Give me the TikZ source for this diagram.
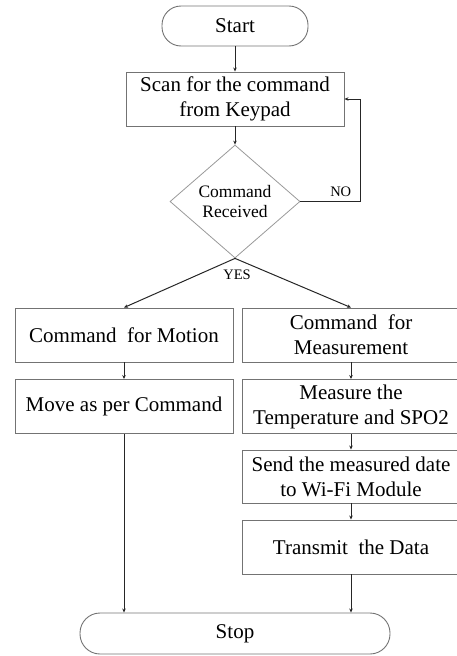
\documentclass[tikz,border=0pt]{standalone}
\usepackage{fontspec}
\setmainfont{Liberation Serif}
\usetikzlibrary{arrows.meta,shapes.geometric}
\begin{document}
\begin{tikzpicture}[x=1pt,y=-1pt,>={Stealth[length=4pt,width=3.5pt]},
 box/.style={draw=black!55,line width=0.9pt,minimum width=218pt,minimum height=54pt,
   align=center,inner sep=2pt,font=\fontsize{21}{25}\selectfont},
 term/.style={draw=black!55,line width=0.9pt,rounded corners=19pt,minimum height=40pt,
   font=\fontsize{21}{25}\selectfont},
 lbl/.style={font=\fontsize{14.5}{16}\selectfont,inner sep=1pt},
 arr/.style={->,line width=1pt,black!85}]
 \useasboundingbox (0,0) rectangle (456,656);
 \node[term,minimum width=146pt] (start) at (235,26) {Start};
 \node[box] (scan) at (235,99) {Scan for the command\\from Keypad};
 \node[diamond,draw=black!40,line width=0.8pt,aspect=1.15,minimum width=130pt,minimum height=113pt,
   inner sep=0pt,align=center,font=\fontsize{17.5}{20}\selectfont] (recv) at (235,201.5) {Command\\Received};
 \node[box] (motion) at (124,335) {Command\ \ for Motion};
 \node[box] (meas) at (351,335) {Command\ \ for\\Measurement};
 \node[box] (move) at (124,406.5) {Move as per Command};
 \node[box] (temp) at (351,406.5) {Measure the\\Temperature and SPO2};
 \node[box,minimum height=53pt] (send) at (351,476.5) {Send the measured date\\to Wi-Fi Module};
 \node[box] (trans) at (351,547) {Transmit\ \ the Data};
 \node[term,minimum width=310pt,minimum height=41pt,rounded corners=20pt] (stop) at (235,633.5) {Stop};
 \node[lbl] (yes) at (237,275) {YES};
 \draw[arr] (start) -- (scan);
 \draw[arr] (scan) -- (recv);
 \draw[arr] (recv.east) -- ++(60,0) coordinate (corner) |- (scan.east);
 \node[lbl,anchor=south east] (no) at ([xshift=-8pt,yshift=4pt]corner) {NO};
 \draw[arr] (recv.south) -- (motion.north);
 \draw[arr] (recv.south) -- (meas.north);
 \draw[arr] (motion) -- (move);
 \draw[arr] (meas) -- (temp);
 \draw[arr] (temp) -- (send);
 \draw[arr] (send) -- (trans);
 \draw[arr] (move.south) -- (move.south |- stop.north);
 \draw[arr] (trans.south) -- (trans.south |- stop.north);
\end{tikzpicture}
\end{document}
